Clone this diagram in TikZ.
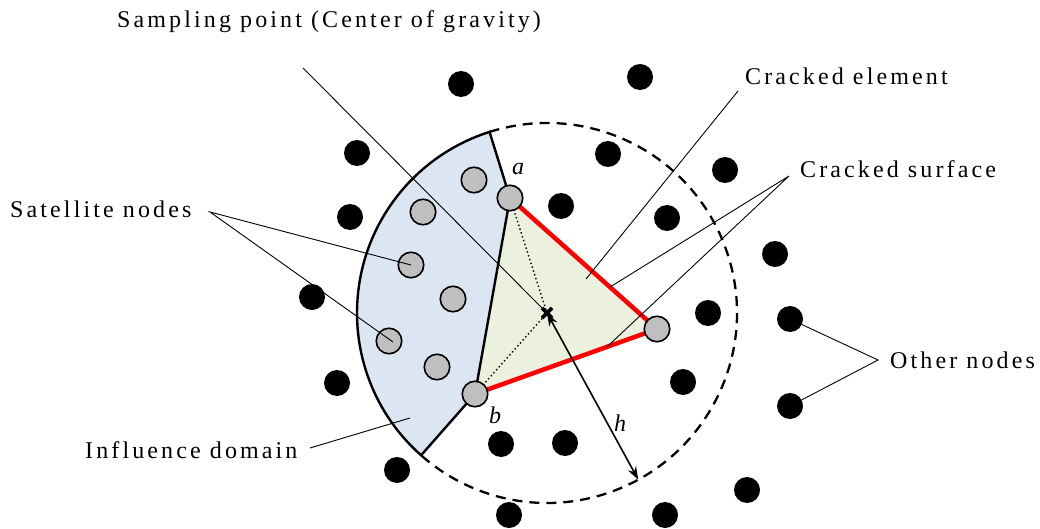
\documentclass[tikz,border=0pt]{standalone}
\usepackage{fontspec}
\setmainfont{Liberation Serif}
\newfontfamily\lbl{Liberation Serif}[LetterSpace=13]
\usetikzlibrary{arrows.meta,calc}
\definecolor{bluefill}{HTML}{DCE6F2}
\definecolor{greenfill}{HTML}{EBF1DE}
\definecolor{satgray}{HTML}{BFBFBF}
\begin{document}
\begin{tikzpicture}[x=1pt,y=-1pt,
  blk/.style={circle,fill=black,minimum size=26pt,inner sep=0pt},
  sat/.style={circle,fill=satgray,draw=black,line width=1.6pt,minimum size=25.5pt,inner sep=0pt},
  lead/.style={line width=0.9pt},
  txt/.style={inner sep=0pt,anchor=base west,font=\lbl\fontsize{24}{28}\selectfont},
  itl/.style={inner sep=0pt,anchor=base,font=\itshape\fontsize{24}{28}\selectfont},
  bound/.style={line width=2.4pt},
  dsh/.style={line width=2.3pt,dash pattern=on 10pt off 7pt}]
\useasboundingbox (0,0) rectangle (1040,529);
% geometry
\coordinate (g) at (547,313);
\coordinate (pa) at (510,198);
\coordinate (pb) at (475,394);
\coordinate (pc) at (657,329);
\coordinate (T) at ($(g)+(252.4:190)$);
\coordinate (B) at ($(g)+(131.5:190)$);
\coordinate (tip) at ($(g)+(61.3:190)$);
% dashed influence circle
\draw[dsh] (T) arc[start angle=252.4,end angle=491.5,radius=190];
% cracked element
\fill[greenfill] (pa) -- (pc) -- (pb) -- cycle;
% influence domain (left part)
\filldraw[fill=bluefill,bound,line join=miter] (T) -- (pa) -- (pb) -- (B) arc[start angle=131.5,end angle=252.4,radius=190] -- cycle;
% dotted lines to centroid
\draw[line width=1.4pt,dash pattern=on 1.4pt off 2.6pt] (pa) -- (g) -- (pb);
% cracked surface
\draw[red,line width=4.5pt] (pa) -- (pc) -- (pb);
% h arrow
\draw[line width=1.6pt,<->,>={Stealth[length=13pt,width=9pt]}] (g) -- (tip);
% sampling point cross
\draw[line width=3.6pt] ($(g)+(-5,-5)$) -- ($(g)+(5,5)$) ($(g)+(-5,5)$) -- ($(g)+(5,-5)$);
% labels (text)
\node[txt] (lsp) at (117,28) {Sampling point (Center of gravity)};
\node[txt] (lce) at (745,85) {Cracked element};
\node[txt] (lcs) at (800,178) {Cracked surface};
\node[txt] (lon) at (890,368) {Other nodes};
\node[txt] (lsn) at (10,218) {Satellite nodes};
\node[txt] (lid) at (85,458) {Influence domain};
\node[itl] (la) at (518,175) {a};
\node[itl] (lb) at (495,423) {b};
\node[itl] (lh) at (620,431) {h};
% leader anchor points
\coordinate (csp) at (303,68);
\coordinate (cce) at (738,91);
\coordinate (cce2) at (586,279);
\coordinate (ccs) at (789,176);
\coordinate (ccs1) at ($(pa)!0.68!(pc)$);
\coordinate (ccs2) at ($(pc)!0.275!(pb)$);
\coordinate (con) at (878,360);
\coordinate (csn) at (210,212);
\coordinate (cid) at (310,448);
\coordinate (cid2) at (410,418);
\draw[lead] (csp) -- (g);
\draw[lead] (cce) -- (cce2);
\draw[lead] (ccs1) -- (ccs) -- (ccs2);
\draw[lead] (cid) -- (cid2);
% other nodes
\node[blk] (o1) at (461,84) {};
\node[blk] (o2) at (640,77) {};
\node[blk] (o3) at (357,153) {};
\node[blk] (o4) at (608,154) {};
\node[blk] (o5) at (725,170) {};
\node[blk] (o6) at (350,217) {};
\node[blk] (o7) at (561,206) {};
\node[blk] (o8) at (667,218) {};
\node[blk] (o9) at (775,254) {};
\node[blk] (o10) at (312,297) {};
\node[blk] (o11) at (708,313) {};
\node[blk] (o12) at (790,319) {};
\node[blk] (o13) at (337,383) {};
\node[blk] (o14) at (683,382) {};
\node[blk] (o15) at (790,406) {};
\node[blk] (o16) at (501,444) {};
\node[blk] (o17) at (565,443) {};
\node[blk] (o18) at (397,470) {};
\node[blk] (o19) at (747,490) {};
\node[blk] (o20) at (509,515) {};
\node[blk] (o21) at (665,515) {};
\draw[lead] (o12) -- (con) -- (o15);
% satellite nodes
\node[sat] (s1) at (474,180) {};
\node[sat] (s2) at (423,212) {};
\node[sat] (s3) at (411,265) {};
\node[sat] (s4) at (453,299) {};
\node[sat] (s5) at (389,341) {};
\node[sat] (s6) at (437,367) {};
\node[sat] (a) at (pa) {};
\node[sat] (b) at (pb) {};
\node[sat] (c) at (pc) {};
\draw[lead] (s3.center) -- (csn) -- ($(s5.center)+(4,1)$);
\end{tikzpicture}
\end{document}
